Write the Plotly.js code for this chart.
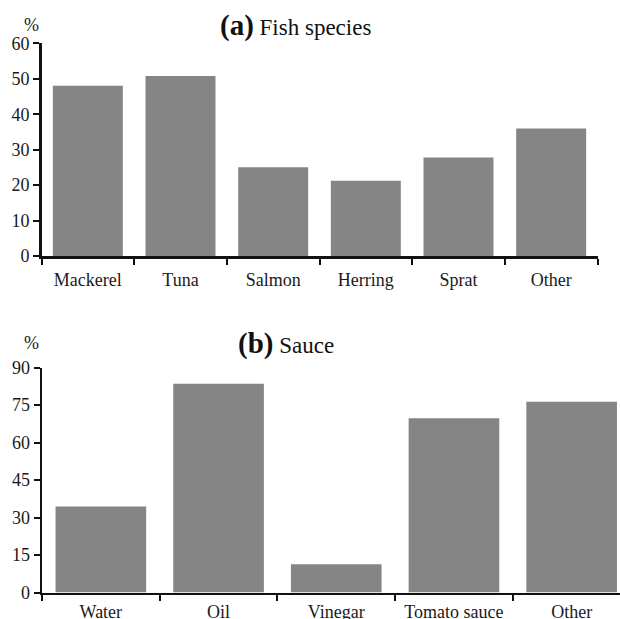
<!DOCTYPE html>
<html>
<head>
<meta charset="utf-8">
<script src="https://cdn.plot.ly/plotly-3.0.1.min.js"></script>
<style>html,body{margin:0;padding:0;background:#fff;}#chart{width:620px;height:619px;}</style>
</head>
<body>
<div id="chart"></div>
<script>
var fishCategories = ["Mackerel", "Tuna", "Salmon", "Herring", "Sprat", "Other"];
var fishValues = [48.0, 50.8, 25.0, 21.2, 27.8, 36.0];
var fishTicks = [0, 10, 20, 30, 40, 50, 60];

var sauceCategories = ["Water", "Oil", "Vinegar", "Tomato sauce", "Other"];
var sauceValues = [34.4, 83.6, 11.3, 69.8, 76.4];
var sauceTicks = [0, 15, 30, 45, 60, 75, 90];

var W = 620, H = 619;
function px(x){ return x / W; }
function py(y){ return 1 - y / H; }

var serif = "Liberation Serif, Times New Roman, serif";
var barColor = "#858585";

var traces = [
  {type: "bar", x: fishCategories, y: fishValues, xaxis: "x", yaxis: "y",
   width: 0.755, marker: {color: barColor, line: {width: 0}}, hoverinfo: "x+y"},
  {type: "bar", x: sauceCategories, y: sauceValues, xaxis: "x2", yaxis: "y2",
   width: 0.77, marker: {color: barColor, line: {width: 0}}, hoverinfo: "x+y"}
];

var axisCommon = {
  showline: true, linecolor: "#111", linewidth: 2.5, showgrid: false, zeroline: false,
  ticks: "outside", ticklen: 6, tickwidth: 2, tickcolor: "#111",
  tickfont: {family: serif, size: 18, color: "#1a1a1a"}, fixedrange: true
};

var layout = {
  width: W, height: H,
  margin: {l: 0, r: 0, t: 0, b: 0},
  paper_bgcolor: "#fff", plot_bgcolor: "#fff",
  showlegend: false,
  xaxis: Object.assign({}, axisCommon, {
    domain: [px(41.5), px(597.5)], anchor: "y", type: "category",
    range: [-0.5, fishCategories.length - 0.5], tickson: "boundaries",
    ticklabelstandoff: 6
  }),
  yaxis: Object.assign({}, axisCommon, {
    domain: [py(256), py(43.3)], anchor: "x",
    range: [0, 60], tickmode: "array", tickvals: fishTicks, ticktext: fishTicks.map(String)
  }),
  xaxis2: Object.assign({}, axisCommon, {
    domain: [px(42), 1], anchor: "y2", type: "category",
    range: [-0.5, -0.5 + 578 / 117.7], tickson: "boundaries",
    ticklabelstandoff: 1
  }),
  yaxis2: Object.assign({}, axisCommon, {
    domain: [py(592.5), py(367.7)], anchor: "x2",
    range: [0, 90], tickmode: "array", tickvals: sauceTicks, ticktext: sauceTicks.map(String)
  }),
  annotations: [
    {xref: "paper", yref: "paper", x: px(295), y: py(26), xanchor: "center", yanchor: "middle",
     showarrow: false, font: {family: serif, size: 23, color: "#111"},
     text: "<span style='font-size:29px'><b>(a)</b></span> Fish species"},
    {xref: "paper", yref: "paper", x: px(31.7), y: py(25), xanchor: "center", yanchor: "middle",
     showarrow: false, font: {family: serif, size: 18, color: "#1a1a1a"}, text: "%"},
    {xref: "paper", yref: "paper", x: px(286), y: py(343), xanchor: "center", yanchor: "middle",
     showarrow: false, font: {family: serif, size: 23, color: "#111"},
     text: "<span style='font-size:29px'><b>(b)</b></span> Sauce"},
    {xref: "paper", yref: "paper", x: px(31.7), y: py(343), xanchor: "center", yanchor: "middle",
     showarrow: false, font: {family: serif, size: 18, color: "#1a1a1a"}, text: "%"}
  ]
};

Plotly.newPlot("chart", traces, layout, {displayModeBar: false, staticPlot: true});
</script>
</body>
</html>
